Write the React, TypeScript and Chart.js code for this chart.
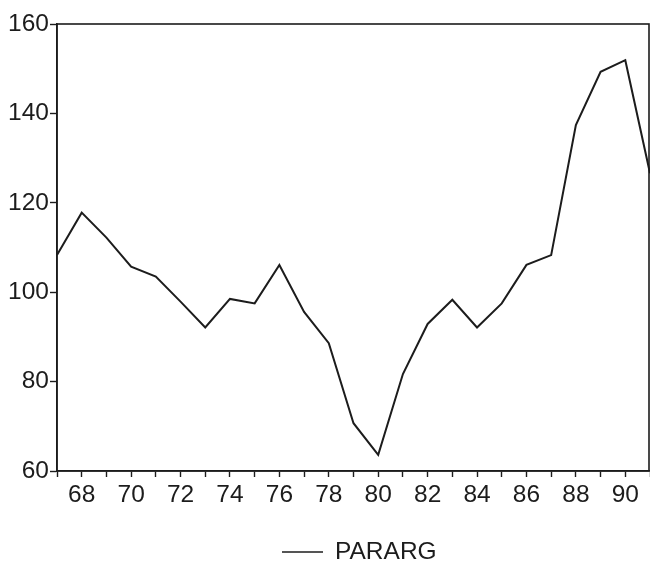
import React, { useEffect, useRef } from "react";
import { Chart, registerables } from "chart.js";

Chart.register(...registerables);

const years: number[] = [67, 68, 69, 70, 71, 72, 73, 74, 75, 76, 77, 78, 79, 80, 81, 82, 83, 84, 85, 86, 87, 88, 89, 90, 91];
const pararg: number[] = [108.3, 117.8, 112.2, 105.7, 103.5, 97.9, 92.1, 98.5, 97.5, 106.1, 95.6, 88.6, 70.7, 63.6, 81.7, 92.9, 98.3, 92.1, 97.5, 106.1, 108.3, 137.4, 149.3, 151.9, 126.6];
const seriesName = "PARARG";
const xMin = 67;
const xMax = 91;
const yMin = 60;
const yMax = 160;
const yStep = 20;

const FONT = "'Liberation Sans', Arial, Helvetica, sans-serif";
const INK = "#1c1c1c";

const frameAndLegend = {
  id: "frameAndLegend",
  afterDraw(chart: any) {
    const ctx = chart.ctx;
    const a = chart.chartArea;
    ctx.save();
    ctx.strokeStyle = INK;
    ctx.lineWidth = 1.6;
    ctx.strokeRect(a.left, a.top, a.right - a.left - 1, a.bottom - a.top);
    // legend
    const cy = 552;
    const lx = 282;
    ctx.lineWidth = 1.4;
    ctx.beginPath();
    ctx.moveTo(lx, cy);
    ctx.lineTo(lx + 41, cy);
    ctx.stroke();
    ctx.fillStyle = INK;
    ctx.font = `24.5px ${FONT}`;
    ctx.textBaseline = "middle";
    ctx.textAlign = "left";
    ctx.fillText(seriesName, lx + 53, cy);
    ctx.restore();
  },
};

export default function App() {
  const ref = useRef<HTMLCanvasElement | null>(null);
  useEffect(() => {
    if (!ref.current) return;
    const chart = new Chart(ref.current, {
      type: "line",
      data: {
        datasets: [
          {
            label: seriesName,
            data: years.map((x, i) => ({ x, y: pararg[i] })),
            borderColor: INK,
            borderWidth: 2,
            pointRadius: 0,
            tension: 0,
            fill: false,
          },
        ],
      },
      options: {
        responsive: false,
        animation: false,
        devicePixelRatio: 1,
        layout: { padding: { top: 24, right: 0, left: 0, bottom: 54 } },
        plugins: { legend: { display: false }, tooltip: { enabled: false } },
        scales: {
          x: {
            type: "linear",
            min: xMin,
            max: xMax,
            afterFit: (s: any) => {
              s.height = 40;
              s.paddingLeft = 0;
              s.paddingRight = 0;
            },
            border: { display: true, color: INK, width: 1.6 },
            grid: { display: true, drawOnChartArea: false, drawTicks: true, tickLength: 6, tickColor: INK, tickWidth: 1.4 },
            ticks: {
              stepSize: 1,
              autoSkip: false,
              maxRotation: 0,
              padding: 4,
              color: INK,
              font: { family: FONT, size: 24.5 },
              callback: (v: any) => (Number(v) % 2 === 0 ? String(v) : ""),
            },
          },
          y: {
            min: yMin,
            max: yMax,
            afterFit: (s: any) => {
              s.width = 57;
              s.paddingTop = 0;
              s.paddingBottom = 0;
            },
            border: { display: true, color: INK, width: 1.6 },
            grid: { display: true, drawOnChartArea: false, drawTicks: true, tickLength: 7, tickColor: INK, tickWidth: 1.4 },
            ticks: {
              stepSize: yStep,
              padding: 1,
              color: INK,
              font: { family: FONT, size: 24.5 },
            },
          },
        },
      },
      plugins: [frameAndLegend],
    });
    return () => chart.destroy();
  }, []);
  return (
    <div style={{ position: "absolute", left: 0, top: 0, width: 650, height: 565, background: "#fff" }}>
      <canvas ref={ref} width={650} height={565} />
    </div>
  );
}
